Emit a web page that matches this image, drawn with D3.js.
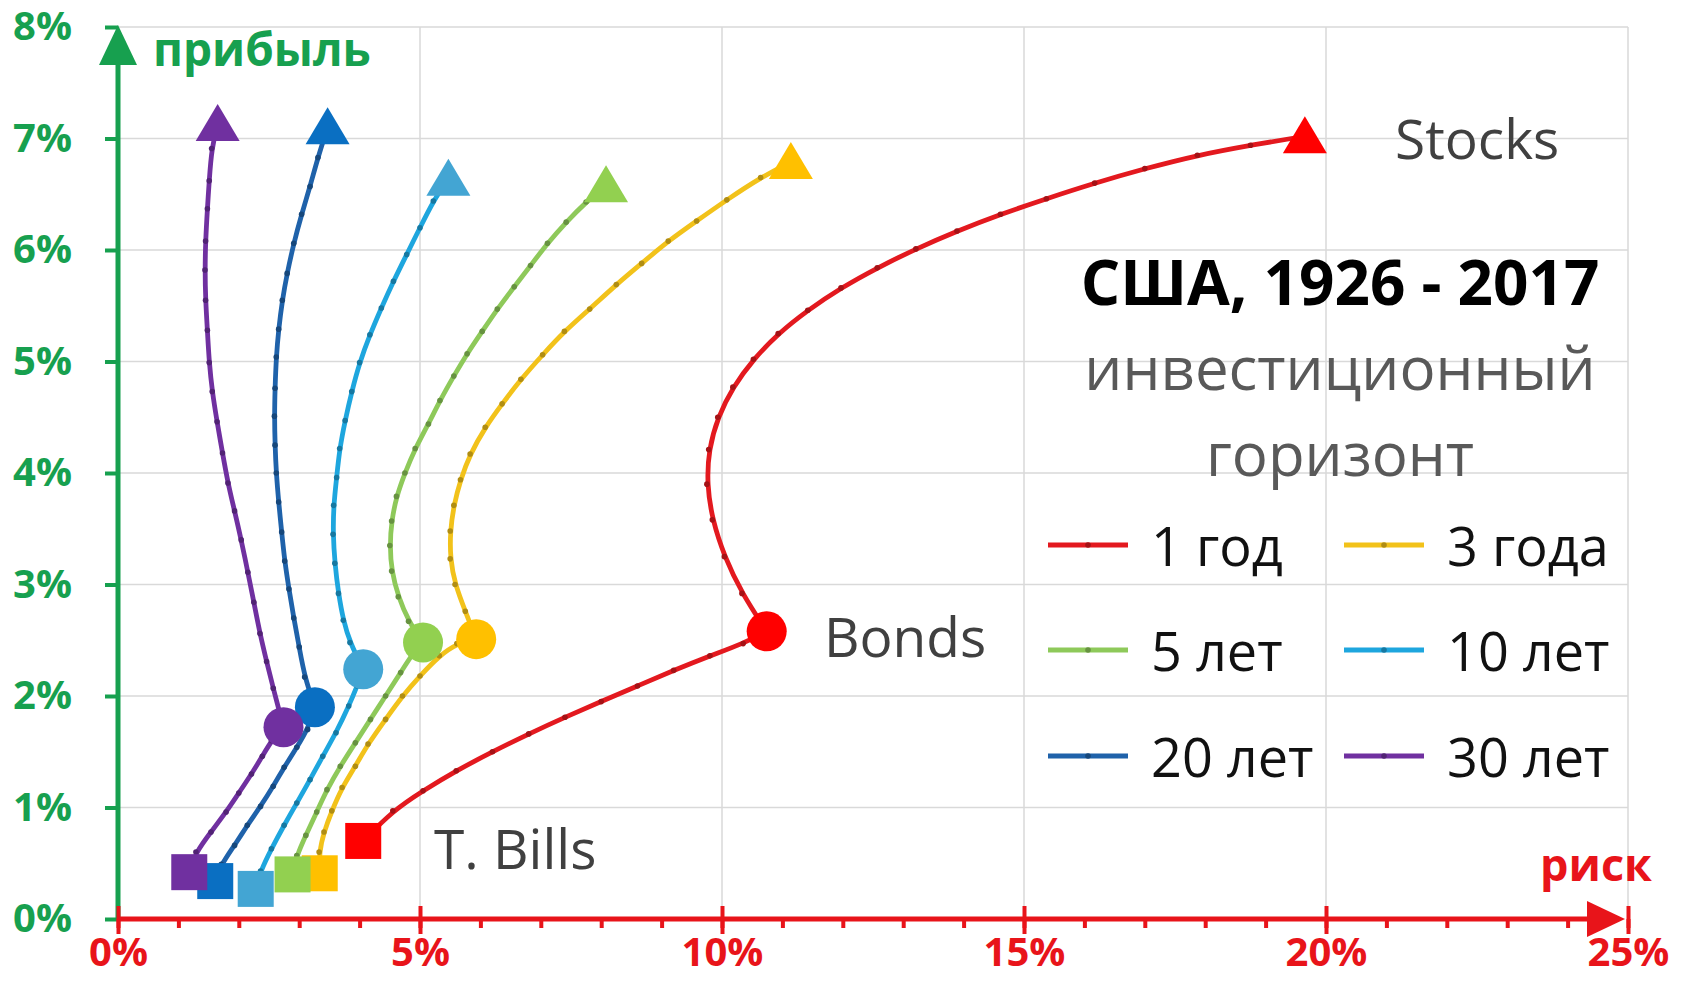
<!DOCTYPE html>
<html>
<head>
<meta charset="utf-8">
<script src="https://cdn.jsdelivr.net/npm/d3@7"></script>
<style>
  html, body { margin: 0; padding: 0; background: #fff; }
  svg { display: block; font-family: "Open Sans", "Noto Sans", sans-serif; }
</style>
</head>
<body>
<svg id="chart" width="1682" height="998"></svg>
<script>
// риск (x, %) и прибыль (y, %) — от T. Bills через Bonds к Stocks
const seriesNames = ["1 год", "3 года", "5 лет", "10 лет", "20 лет", "30 лет"];
const lineColors = ["#e3191f", "#f2c21a", "#8ec95a", "#1ea6de", "#1f62aa", "#7030a0"];
const markerColors = ["#ff0000", "#ffc000", "#92d050", "#43a5d3", "#0a6fc2", "#7030a0"];

const curve1 = [[4.06,0.70],[4.55,0.97],[5.05,1.15],[5.6,1.33],[6.2,1.50],[6.8,1.66],[7.4,1.81],[8.0,1.95],[8.6,2.09],[9.2,2.23],[9.8,2.36],[10.35,2.47],[10.74,2.58],
  [10.33,2.92],[10.04,3.25],[9.84,3.58],[9.75,3.90],[9.78,4.21],[9.93,4.50],[10.18,4.77],[10.52,5.02],[10.93,5.25],[11.42,5.46],[11.97,5.66],[12.57,5.84],[13.21,6.01],[13.89,6.17],[14.61,6.32],[15.37,6.46],[16.17,6.60],[17.00,6.73],[17.87,6.85],[18.75,6.94],[19.65,7.02]];
const curve3 = [[3.34,0.41],[3.33,0.60],[3.41,0.78],[3.54,0.97],[3.71,1.18],[3.93,1.37],[4.14,1.57],[4.43,1.79],[4.71,2.0],[5.0,2.18],[5.32,2.36],[5.61,2.47],[5.93,2.51],
  [5.75,2.76],[5.58,3.0],[5.5,3.23],[5.5,3.48],[5.56,3.71],[5.67,3.94],[5.83,4.17],[6.08,4.41],[6.36,4.62],[6.67,4.84],[7.03,5.06],[7.39,5.27],[7.81,5.47],[8.25,5.69],[8.67,5.88],[9.11,6.08],[9.58,6.26],[10.08,6.45],[10.64,6.65],[11.14,6.79]];
const curve5 = [[2.89,0.40],[2.96,0.57],[3.11,0.75],[3.29,0.96],[3.46,1.16],[3.68,1.37],[3.93,1.58],[4.18,1.79],[4.43,2.0],[4.68,2.21],[4.89,2.39],[5.05,2.48],
  [4.81,2.67],[4.64,2.89],[4.53,3.12],[4.5,3.35],[4.53,3.57],[4.61,3.79],[4.75,4.0],[4.92,4.22],[5.14,4.44],[5.33,4.65],[5.56,4.87],[5.78,5.07],[6.03,5.27],[6.28,5.47],[6.56,5.67],[6.83,5.86],[7.11,6.06],[7.42,6.25],[7.75,6.43],[8.08,6.58]];
const curve10 = [[2.28,0.27],[2.36,0.43],[2.54,0.63],[2.75,0.84],[2.96,1.04],[3.18,1.25],[3.39,1.46],[3.61,1.67],[3.82,1.91],[3.96,2.09],[4.06,2.24],
  [3.84,2.48],[3.73,2.68],[3.65,2.92],[3.59,3.19],[3.56,3.45],[3.57,3.71],[3.62,3.96],[3.67,4.22],[3.76,4.47],[3.87,4.73],[4.0,4.99],[4.17,5.24],[4.36,5.48],[4.56,5.72],[4.78,5.96],[5.0,6.2],[5.22,6.44],[5.47,6.64]];
const curve20 = [[1.61,0.34],[1.71,0.49],[1.93,0.66],[2.14,0.84],[2.36,1.01],[2.57,1.19],[2.75,1.36],[2.96,1.54],[3.14,1.70],[3.26,1.90],
  [3.09,2.17],[3.0,2.44],[2.91,2.70],[2.83,2.96],[2.76,3.21],[2.71,3.47],[2.66,3.74],[2.62,4.0],[2.60,4.25],[2.59,4.51],[2.60,4.76],[2.62,5.04],[2.66,5.29],[2.72,5.55],[2.80,5.79],[2.91,6.06],[3.04,6.32],[3.18,6.57],[3.31,6.83],[3.47,7.1]];
const curve30 = [[1.18,0.42],[1.29,0.60],[1.54,0.78],[1.79,0.96],[2.0,1.13],[2.21,1.30],[2.39,1.46],[2.54,1.60],[2.74,1.72],
  [2.57,2.07],[2.46,2.31],[2.35,2.56],[2.25,2.84],[2.15,3.11],[2.04,3.40],[1.93,3.66],[1.82,3.91],[1.73,4.18],[1.64,4.46],[1.56,4.73],[1.51,4.99],[1.48,5.28],[1.45,5.55],[1.44,5.82],[1.45,6.08],[1.48,6.37],[1.51,6.62],[1.55,6.91],[1.65,7.13]];
const curves = [curve1, curve3, curve5, curve10, curve20, curve30];
const bondIndex = [12, 12, 11, 10, 9, 8];

const xTicks = [0, 5, 10, 15, 20, 25];
const xMinorTicks = d3.range(0, 26, 1);
const yTicks = [0, 1, 2, 3, 4, 5, 6, 7, 8];

const GREEN = "#17a04f", RED = "#e8141a";

const svg = d3.select("#chart");
const x = d3.scaleLinear().domain([0, 25]).range([118, 1628]);
const y = d3.scaleLinear().domain([0, 8]).range([919, 27]);

svg.append("rect").attr("width", 1682).attr("height", 998).attr("fill", "#fff");

// сетка
const grid = svg.append("g").attr("stroke", "#d9d9d9").attr("stroke-width", 1.5);
grid.selectAll(".gy").data(yTicks.slice(1)).enter().append("line")
  .attr("x1", x(0)).attr("x2", x(25)).attr("y1", d => y(d)).attr("y2", d => y(d));
grid.selectAll(".gx").data(xTicks.slice(1)).enter().append("line")
  .attr("x1", d => x(d)).attr("x2", d => x(d)).attr("y1", y(0)).attr("y2", y(8));

// ось Y
const yTickAxis = svg.append("g").attr("transform", `translate(${x(0)},0)`)
  .call(d3.axisLeft(y).tickValues(yTicks).tickSize(13).tickFormat(""));
yTickAxis.select(".domain").remove();
yTickAxis.selectAll("line").attr("stroke", GREEN).attr("stroke-width", 4);

const yLabelAxis = svg.append("g").attr("transform", `translate(${x(0)},0)`)
  .call(d3.axisLeft(y).tickValues(yTicks).tickSize(0).tickPadding(46).tickFormat(d => d + "%"));
yLabelAxis.select(".domain").remove();
yLabelAxis.selectAll("text").attr("fill", GREEN).attr("font-size", 40).attr("font-weight", 700)
  .attr("font-family", "'Open Sans', sans-serif");

svg.append("line").attr("x1", x(0)).attr("x2", x(0)).attr("y1", y(0) + 2).attr("y2", y(8) + 30)
  .attr("stroke", GREEN).attr("stroke-width", 5);
svg.append("path")
  .attr("d", `M${x(0)},${y(8) - 2} L${x(0) + 19},${y(8) + 38} L${x(0) - 19},${y(8) + 38} Z`)
  .attr("fill", GREEN);
svg.append("text").attr("x", 153).attr("y", 48).attr("dominant-baseline", "central")
  .attr("fill", GREEN).attr("font-size", 46).attr("font-weight", 700).text("прибыль");

// ось X
const xMinor = svg.append("g").attr("transform", `translate(0,${y(0)})`)
  .call(d3.axisBottom(x).tickValues(xMinorTicks).tickSize(9).tickFormat(""));
xMinor.select(".domain").remove();
xMinor.selectAll("line").attr("stroke", RED).attr("stroke-width", 4);

const xMajorDown = svg.append("g").attr("transform", `translate(0,${y(0)})`)
  .call(d3.axisBottom(x).tickValues(xTicks).tickSize(15).tickFormat(""));
xMajorDown.select(".domain").remove();
xMajorDown.selectAll("line").attr("stroke", RED).attr("stroke-width", 4);
const xMajorUp = svg.append("g").attr("transform", `translate(0,${y(0)})`)
  .call(d3.axisTop(x).tickValues(xTicks).tickSize(13).tickFormat(""));
xMajorUp.select(".domain").remove();
xMajorUp.selectAll("line").attr("stroke", RED).attr("stroke-width", 4);

const xLabels = svg.append("g").attr("transform", `translate(0,${y(0)})`)
  .call(d3.axisBottom(x).tickValues(xTicks).tickSize(0).tickPadding(19).tickFormat(d => d + "%"));
xLabels.select(".domain").remove();
xLabels.selectAll("text").attr("fill", RED).attr("font-size", 40).attr("font-weight", 700)
  .attr("font-family", "'Open Sans', sans-serif");

svg.append("line").attr("x1", x(0)).attr("x2", x(25) - 30).attr("y1", y(0)).attr("y2", y(0))
  .attr("stroke", RED).attr("stroke-width", 5);
svg.append("path")
  .attr("d", `M${x(25) - 3},${y(0)} L${x(25) - 41},${y(0) - 18} L${x(25) - 41},${y(0) + 18} Z`)
  .attr("fill", RED);
svg.append("text").attr("x", 1540).attr("y", 863).attr("dominant-baseline", "central")
  .attr("fill", RED).attr("font-size", 45).attr("font-weight", 700).text("риск");

// кривые (сглаженные, как в Excel)
const line = d3.line().x(d => x(d[0])).y(d => y(d[1])).curve(d3.curveBasis);
const tri = (cx, cy) => `M${cx},${cy - 20} L${cx + 22},${cy + 17} L${cx - 22},${cy + 17} Z`;

curves.forEach((pts, i) => {
  const g = svg.append("g");
  const b = bondIndex[i];
  [pts.slice(0, b + 1), pts.slice(b)].forEach(seg => {
    g.append("path").attr("d", line(seg)).attr("fill", "none")
      .attr("stroke", lineColors[i]).attr("stroke-width", 4.8).attr("stroke-linejoin", "round");
  });
  g.selectAll(".dot").data(pts.slice(1, -1).filter((d, j) => j + 1 !== b)).enter().append("circle")
    .attr("cx", d => x(d[0])).attr("cy", d => y(d[1])).attr("r", 2.8)
    .attr("fill", d3.color(lineColors[i]).darker(0.9));
  const s = pts[0], m = pts[b], e = pts[pts.length - 1];
  g.append("rect").attr("x", x(s[0]) - 18).attr("y", y(s[1]) - 18).attr("width", 36).attr("height", 36)
    .attr("fill", markerColors[i]);
  g.append("circle").attr("cx", x(m[0])).attr("cy", y(m[1])).attr("r", 20).attr("fill", markerColors[i]);
  g.append("path").attr("d", tri(x(e[0]), y(e[1]))).attr("fill", markerColors[i]);
});

// подписи
const labelStyle = sel => sel.attr("dominant-baseline", "central").attr("fill", "#404040").attr("font-size", 55);
svg.append("text").attr("x", 1395).attr("y", 137).call(labelStyle).text("Stocks");
svg.append("text").attr("x", 824).attr("y", 635).call(labelStyle).text("Bonds");
svg.append("text").attr("x", 434).attr("y", 847).call(labelStyle).text("T. Bills");

svg.append("text").attr("x", 1340).attr("y", 281).attr("text-anchor", "middle").attr("dominant-baseline", "central")
  .attr("fill", "#000").attr("font-size", 62).attr("font-weight", 700).text("США, 1926 - 2017");
svg.append("text").attr("x", 1340).attr("y", 367).attr("text-anchor", "middle").call(labelStyle)
  .attr("font-size", 60).attr("fill", "#595959").text("инвестиционный");
svg.append("text").attr("x", 1340).attr("y", 453).attr("text-anchor", "middle").call(labelStyle)
  .attr("font-size", 60).attr("fill", "#595959").text("горизонт");

// легенда
const legendCols = [1048, 1344];
const legendRows = [545, 650, 756];
const legend = svg.append("g");
seriesNames.forEach((name, i) => {
  const lx = legendCols[i % 2], ly = legendRows[Math.floor(i / 2)];
  legend.append("line").attr("x1", lx).attr("x2", lx + 80).attr("y1", ly).attr("y2", ly)
    .attr("stroke", lineColors[i]).attr("stroke-width", 5);
  legend.append("circle").attr("cx", lx + 40).attr("cy", ly).attr("r", 2.8)
    .attr("fill", d3.color(lineColors[i]).darker(0.9));
  legend.append("text").attr("x", lx + 103).attr("y", ly).attr("dominant-baseline", "central")
    .attr("fill", "#111").attr("font-size", 54).text(name);
});
</script>
</body>
</html>
